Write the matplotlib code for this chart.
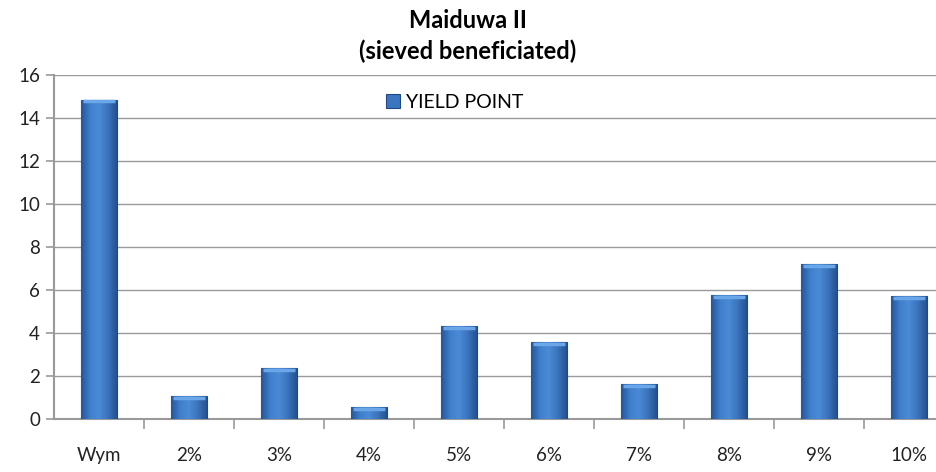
import matplotlib.pyplot as plt
from matplotlib.colors import LinearSegmentedColormap
import numpy as np

categories = ['Wym', '2%', '3%', '4%', '5%', '6%', '7%', '8%', '9%', '10%']
yield_point = [14.85, 1.08, 2.35, 0.56, 4.32, 3.57, 1.63, 5.76, 7.19, 5.72]

plt.rcParams['font.family'] = ['Lato', 'DejaVu Sans']

fig = plt.figure(figsize=(9.36, 4.72), dpi=100)
ax = fig.add_axes([54 / 936, 1 - 419 / 472, 882 / 936, 344 / 472])

x = np.arange(len(categories))
bars = ax.bar(x, yield_point, width=0.4, color='#3b75c0', edgecolor='#1f4a85',
              linewidth=0.8, label='YIELD POINT', zorder=3)

# gradient fill so the bars look a bit like the excel ones
cmap = LinearSegmentedColormap.from_list('bev', ['#24569a', '#3f7fcc', '#4a8ad6', '#3a74bd', '#24528f'])
grad = np.linspace(0, 1, 64).reshape(1, -1)
for b in bars:
    x0, y0 = b.get_x(), b.get_y()
    w, h = b.get_width(), b.get_height()
    im = ax.imshow(grad, cmap=cmap, extent=[x0, x0 + w, y0, y0 + h],
                   aspect='auto', zorder=3.5, interpolation='bicubic')
    im.set_clip_path(b)
    # light top edge
    ax.plot([x0 + 0.02, x0 + w - 0.02], [y0 + h - 0.08, y0 + h - 0.08],
            color='#6aa6e8', lw=2.5, zorder=4, solid_capstyle='butt')

ax.set_xlim(-0.5, 9.3)
ax.set_ylim(0, 16)
ax.set_yticks(range(0, 17, 2))
ax.set_xticks(x)
ax.set_xticklabels(categories)
ax.set_xticks(np.arange(0.5, 9.5, 1), minor=True)
ax.tick_params(axis='x', which='major', length=0, pad=20, labelsize=13.5, colors='#222222')
ax.tick_params(axis='x', which='minor', length=7, width=1.2, color='#999999', direction='out')
ax.tick_params(axis='y', length=6, width=1.2, color='#999999', labelsize=13.5,
               labelcolor='#222222', pad=4)

ax.grid(axis='y', color='#9a9a9a', lw=1.0, zorder=0)
ax.set_axisbelow(True)
for s in ['top', 'right']:
    ax.spines[s].set_visible(False)
for s in ['left', 'bottom']:
    ax.spines[s].set_color('#999999')
    ax.spines[s].set_linewidth(1.5)

ax.legend(loc='center left', bbox_to_anchor=(0.357, 0.92), frameon=False,
          fontsize=14, handlelength=0.7, handleheight=0.7, handletextpad=0.3)

fig.text(0.5, 1 - 20 / 472, 'Maiduwa II', ha='center', va='center',
         fontsize=17, fontweight='bold')
fig.text(0.5, 1 - 51 / 472, '(sieved beneficiated)', ha='center', va='center',
         fontsize=17, fontweight='bold')

fig.savefig('out.png', dpi=100)
